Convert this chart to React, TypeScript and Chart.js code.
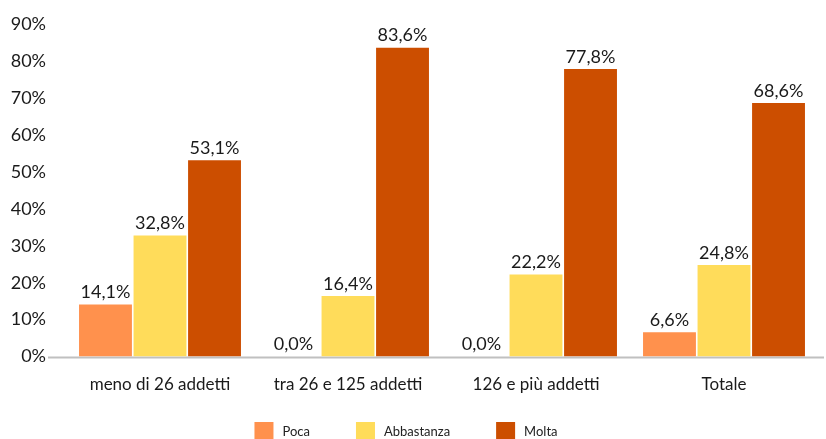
import React, { useEffect, useRef } from "react";
import { Chart, registerables } from "chart.js";

Chart.register(...registerables);

const categories = ["meno di 26 addetti", "tra 26 e 125 addetti", "126 e più addetti", "Totale"];
const poca = [14.1, 0.0, 0.0, 6.6];
const abbastanza = [32.8, 16.4, 22.2, 24.8];
const molta = [53.1, 83.6, 77.8, 68.6];
const seriesNames = ["Poca", "Abbastanza", "Molta"];
const colors = ["#FF914D", "#FFDC5A", "#CC4E00"];

const FONT = "Lato, 'Open Sans', sans-serif";

const fmt = (v: number) => v.toFixed(1).replace(".", ",") + "%";

const valueLabels = {
  id: "valueLabels",
  afterDatasetsDraw(chart: any) {
    const ctx = chart.ctx;
    ctx.save();
    ctx.font = `18px ${FONT}`;
    ctx.fillStyle = "#1a1a1a";
    ctx.textAlign = "center";
    ctx.textBaseline = "bottom";
    chart.data.datasets.forEach((ds: any, i: number) => {
      const meta = chart.getDatasetMeta(i);
      meta.data.forEach((bar: any, j: number) => {
        ctx.fillText(fmt(ds.data[j]), bar.x, bar.y - 3);
      });
    });
    ctx.restore();
  },
};

const baseline = {
  id: "baseline",
  beforeDatasetsDraw(chart: any) {
    const ctx = chart.ctx;
    const y = chart.scales.y.getPixelForValue(0);
    ctx.save();
    ctx.strokeStyle = "#c0c0c0";
    ctx.lineWidth = 2;
    ctx.beginPath();
    ctx.moveTo(48, y + 1);
    ctx.lineTo(824, y + 1);
    ctx.stroke();
    ctx.restore();
  },
};

const customLegend = {
  id: "customLegend",
  afterDraw(chart: any) {
    const ctx = chart.ctx;
    ctx.save();
    ctx.font = `13px ${FONT}`;
    const box = 19, boxH = 17, gapText = 9, gapItem = 46;
    const widths = seriesNames.map((n) => box + gapText + ctx.measureText(n).width);
    const total = widths.reduce((a, b) => a + b, 0) + gapItem * (seriesNames.length - 1);
    let x = chart.width / 2 - 7 - total / 2;
    const top = chart.height - 17;
    seriesNames.forEach((n, i) => {
      ctx.fillStyle = colors[i];
      ctx.fillRect(x, top, box, boxH);
      ctx.fillStyle = "#222";
      ctx.textAlign = "left";
      ctx.textBaseline = "middle";
      ctx.fillText(n, x + box + gapText, top + boxH / 2 + 1);
      x += widths[i] + gapItem;
    });
    ctx.restore();
  },
};

export default function App() {
  const ref = useRef<HTMLCanvasElement | null>(null);
  useEffect(() => {
    document.body.style.margin = "0";
    const chart = new Chart(ref.current!, {
      type: "bar",
      data: {
        labels: categories,
        datasets: [poca, abbastanza, molta].map((d, i) => ({
          label: seriesNames[i],
          data: d,
          backgroundColor: colors[i],
          categoryPercentage: 0.87,
          barPercentage: 0.97,
        })),
      },
      options: {
        animation: false,
        responsive: false,
        maintainAspectRatio: false,
        layout: { padding: { top: 24, right: 8, left: 0, bottom: 26 } },
        plugins: {
          legend: { display: false },
          tooltip: { enabled: false },
        },
        scales: {
          x: {
            grid: { display: false, drawTicks: false },
            border: { display: false },
            ticks: { color: "#1a1a1a", font: { family: FONT, size: 17 }, padding: 18 },
          },
          y: {
            min: 0,
            max: 90,
            afterFit: (s: any) => { s.width = 66; s.paddingTop = 0; s.paddingBottom = 0; },
            grid: { display: false, drawTicks: false },
            border: { display: false },
            ticks: {
              stepSize: 10,
              padding: 20,
              color: "#1a1a1a",
              font: { family: FONT, size: 18 },
              callback: (v: any) => v + "%",
            },
          },
        },
      },
      plugins: [baseline, valueLabels, customLegend],
    });
    return () => chart.destroy();
  }, []);
  return (
    <div style={{ width: 826, height: 439, background: "#fff" }}>
      <canvas ref={ref} width={826} height={439} />
    </div>
  );
}
